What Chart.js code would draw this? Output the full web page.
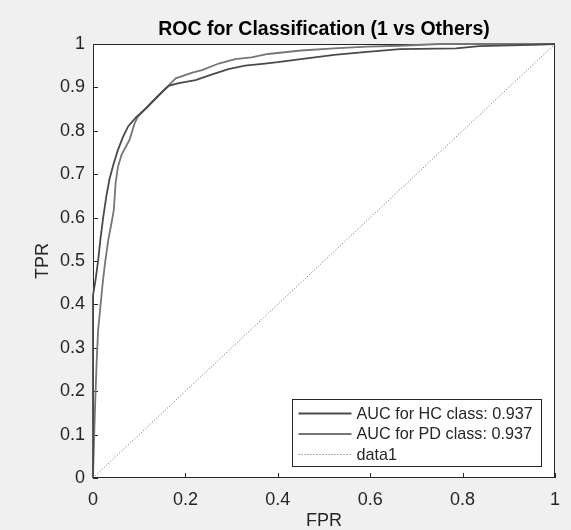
<!DOCTYPE html>
<html><head><meta charset="utf-8">
<script src="https://cdn.jsdelivr.net/npm/chart.js@4.4.1/dist/chart.umd.min.js"></script>
<style>html,body{margin:0;padding:0;background:#f0f0f0;}canvas{display:block;}</style>
</head><body>
<canvas id="c" width="571" height="530"></canvas>
<script>
// ---- data ----
const chartTitle = 'ROC for Classification (1 vs Others)';
const xAxisTitle = 'FPR';
const yAxisTitle = 'TPR';
const seriesLabels = ['AUC for HC class: 0.937', 'AUC for PD class: 0.937', 'data1'];

const hcFpr = [0, 0, 0.006, 0.011, 0.016, 0.022, 0.029, 0.036, 0.045, 0.054, 0.065, 0.076, 0.094, 0.115, 0.136, 0.154, 0.165, 0.186, 0.222, 0.258, 0.293, 0.329, 0.372, 0.4, 0.45, 0.522, 0.593, 0.664, 0.786, 0.836, 0.95, 1];
const hcTpr = [0, 0.42, 0.46, 0.50, 0.55, 0.60, 0.65, 0.69, 0.725, 0.756, 0.786, 0.81, 0.832, 0.852, 0.875, 0.894, 0.904, 0.91, 0.917, 0.93, 0.942, 0.95, 0.955, 0.958, 0.965, 0.975, 0.982, 0.988, 0.99, 0.995, 0.998, 1];

const pdFpr = [0, 0.004, 0.008, 0.011, 0.016, 0.021, 0.026, 0.033, 0.04, 0.045, 0.049, 0.054, 0.062, 0.079, 0.09, 0.097, 0.115, 0.136, 0.154, 0.165, 0.179, 0.215, 0.236, 0.272, 0.308, 0.343, 0.379, 0.45, 0.522, 0.593, 0.664, 0.75, 1];
const pdTpr = [0, 0.15, 0.27, 0.34, 0.395, 0.449, 0.495, 0.548, 0.587, 0.617, 0.68, 0.717, 0.745, 0.779, 0.817, 0.832, 0.852, 0.875, 0.894, 0.906, 0.921, 0.934, 0.94, 0.955, 0.965, 0.969, 0.977, 0.985, 0.99, 0.994, 0.996, 1, 1];

const diagFpr = [0, 1];
const diagTpr = [0, 1];

const xTickStep = 0.2;
const yTickStep = 0.1;

// ---- styling ----
const FONT = '"Liberation Sans", Arial, Helvetica, sans-serif';
const AXIS_COLOR = '#262626';

function toPoints(xs, ys) { return xs.map((x, i) => ({x: x, y: ys[i]})); }
function fmtTick(v) { return String(Math.round(v * 10) / 10); }

const boxPlugin = {
  id: 'boxPlugin',
  beforeDraw(chart) {
    const {ctx, chartArea: a} = chart;
    ctx.save();
    ctx.fillStyle = '#f0f0f0';
    ctx.fillRect(0, 0, chart.width, chart.height);
    ctx.fillStyle = '#ffffff';
    ctx.fillRect(a.left, a.top, a.right - a.left, a.bottom - a.top);
    ctx.restore();
  },
  beforeDatasetsDraw(chart) {
    const {ctx, chartArea: a, scales} = chart;
    ctx.save();
    ctx.strokeStyle = AXIS_COLOR;
    ctx.lineWidth = 1;
    ctx.strokeRect(Math.round(a.left) + 0.5, Math.round(a.top) + 0.5,
                   Math.round(a.right - a.left) - 1, Math.round(a.bottom - a.top) - 1);
    const tl = 5;
    ctx.beginPath();
    scales.x.ticks.forEach(t => {
      const px = Math.round(scales.x.getPixelForValue(t.value)) + 0.5;
      ctx.moveTo(px, a.bottom); ctx.lineTo(px, a.bottom - tl);
    });
    scales.y.ticks.forEach(t => {
      const py = Math.round(scales.y.getPixelForValue(t.value)) + 0.5;
      ctx.moveTo(a.left, py); ctx.lineTo(a.left + tl, py);
    });
    ctx.stroke();
    ctx.restore();
  },
  afterDatasetsDraw(chart) {
    const {ctx, chartArea: a} = chart;
    const w = 249, h = 67;
    const left = Math.round(a.right - 14 - w) + 0.5;
    const top = Math.round(a.bottom - 12 - h) + 0.5;
    ctx.save();
    ctx.fillStyle = '#ffffff';
    ctx.fillRect(left, top, w, h);
    ctx.strokeStyle = AXIS_COLOR;
    ctx.lineWidth = 1;
    ctx.strokeRect(left, top, w, h);
    ctx.font = '16.2px ' + FONT;
    ctx.textBaseline = 'middle';
    ctx.textAlign = 'left';
    chart.data.datasets.forEach((ds, i) => {
      const cy = top + 14 + i * 20.5;
      ctx.beginPath();
      ctx.strokeStyle = ds.borderColor;
      ctx.lineWidth = ds.borderWidth;
      ctx.setLineDash(ds.borderDash || []);
      ctx.moveTo(left + 6, cy); ctx.lineTo(left + 59, cy);
      ctx.stroke();
      ctx.setLineDash([]);
      ctx.fillStyle = AXIS_COLOR;
      ctx.fillText(ds.label, left + 64, cy + 1);
    });
    ctx.restore();
  }
};

new Chart(document.getElementById('c'), {
  type: 'line',
  data: {
    datasets: [
      {label: seriesLabels[0], data: toPoints(hcFpr, hcTpr), borderColor: '#4a4a4a', borderWidth: 1.8, pointRadius: 0, tension: 0, fill: false, clip: false},
      {label: seriesLabels[1], data: toPoints(pdFpr, pdTpr), borderColor: '#767676', borderWidth: 1.8, pointRadius: 0, tension: 0, fill: false, clip: false},
      {label: seriesLabels[2], data: toPoints(diagFpr, diagTpr), borderColor: '#666666', borderWidth: 1, borderDash: [1, 2], pointRadius: 0, tension: 0, fill: false}
    ]
  },
  options: {
    responsive: false,
    animation: false,
    layout: {padding: {left: 0, right: 11, top: 0, bottom: 0}},
    plugins: {
      legend: {display: false},
      tooltip: {enabled: false},
      title: {
        display: true, text: chartTitle, color: '#000000', fullSize: false,
        font: {family: FONT, size: 19.5, weight: 'bold', lineHeight: 1.2},
        padding: {top: 18.3, bottom: 2.3}
      }
    },
    scales: {
      x: {
        type: 'linear', min: 0, max: 1,
        ticks: {stepSize: xTickStep, padding: 11, color: AXIS_COLOR, font: {family: FONT, size: 18}, maxRotation: 0, callback: fmtTick},
        grid: {display: false, drawTicks: false},
        border: {display: false},
        title: {display: true, text: xAxisTitle, color: AXIS_COLOR, font: {family: FONT, size: 18, lineHeight: 1}, padding: 0},
        afterFit(s) { s.height = 52; }
      },
      y: {
        type: 'linear', min: 0, max: 1,
        ticks: {stepSize: yTickStep, padding: 8, color: AXIS_COLOR, font: {family: FONT, size: 18}, callback: fmtTick},
        grid: {display: false, drawTicks: false},
        border: {display: false},
        title: {display: true, text: yAxisTitle, color: AXIS_COLOR, font: {family: FONT, size: 18, lineHeight: 1}, padding: {top: 34, bottom: 0}},
        afterFit(s) { s.width = 93; }
      }
    }
  },
  plugins: [boxPlugin]
});
</script>
</body></html>
